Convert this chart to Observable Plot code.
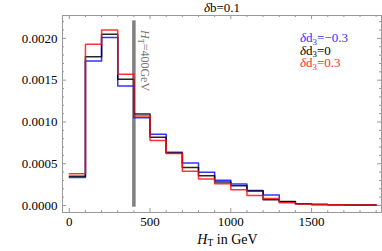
<!DOCTYPE html>
<html><head><meta charset="utf-8">
<script src="https://cdn.jsdelivr.net/npm/d3@7"></script>
<script src="https://cdn.jsdelivr.net/npm/@observablehq/plot@0.6"></script>
<style>body{margin:0;background:#fff} svg{display:block} svg text{font-family:"Liberation Serif","DejaVu Serif",serif !important}</style>
</head><body><div id="chart"></div>
<script>
// Bin edges (GeV)
const binEdges = [0,100,200,300,400,500,600,700,800,900,1000,1100,1200,1300,1400,1500,1600,1700,1800,1900];
// Normalized distributions
const blueVals  = [0.000337,0.00173,0.00201,0.00143,0.00105,0.000853,0.000638,0.000508,0.000397,0.000302,0.000258,0.000179,0.000125,0.000045,0.00002,0.000012,0.000008,0.000006,0.000005];
const blackVals = [0.00035,0.00178,0.00205,0.00151,0.001095,0.000818,0.00063,0.000456,0.000357,0.000282,0.000238,0.000175,0.00007,0.000048,0.00002,0.000012,0.000008,0.000006,0.000005];
const redVals   = [0.00038,0.00193,0.0021,0.00157,0.00107,0.000778,0.000623,0.000409,0.000317,0.000262,0.00019,0.000119,0.000085,0.000032,0.000018,0.000012,0.000008,0.000006,0.000005];
const seriesNames = ["δd3=−0.3","δd3=0","δd3=0.3"];
const seriesColors = ["#1010ff","#000000","#ff1010"];
const legendColors = ["#3030ff","#000000","#ff2a2a"];
const xMajorTicks = [0,500,1000,1500];
const yMajorTicks = [0,0.0005,0.001,0.0015,0.002];
const cutX = [400];
const cutYRange = [-0.00002, 0.00221];
const titleText = "δb=0.1";
const xLabelText = "HT in GeV";
const cutLabelText = "HT=400GeV";

const W = 382, H = 251;
const mL = 62, mR = 1, mT = 15, mB = 39;
const fw = W - mL - mR, fh = H - mT - mB;

const valsList = [blueVals, blackVals, redVals];
const rows = valsList.flatMap((vals, k) => [
  ...vals.map((v, i) => ({x: binEdges[i], y: v, s: seriesNames[k]})),
  {x: binEdges[vals.length], y: vals[vals.length - 1], s: seriesNames[k]}
]);

const xMinor = d3.range(0, 1901, 100).filter(d => !xMajorTicks.includes(d));
const yMinor = d3.range(0, 23).map(i => i * 0.0001).filter(d => !yMajorTicks.some(m => Math.abs(m - d) < 1e-9));
const tickColor = "#999";
const ff = "Liberation Serif";

const plot = Plot.plot({
  width: W, height: H,
  marginLeft: mL, marginRight: mR, marginTop: mT, marginBottom: mB,
  style: {fontFamily: ff, fontSize: "13px", color: "#000", background: "#fff"},
  x: {domain: [-42, 1933], label: null},
  y: {domain: [-0.0000833, 0.002274], label: null},
  color: {domain: seriesNames, range: seriesColors},
  marks: [
    Plot.frame({stroke: tickColor}),
    Plot.tickX(xMajorTicks, {x: d => d, stroke: tickColor, insetTop: fh - 4}),
    Plot.tickX(xMinor, {x: d => d, stroke: tickColor, insetTop: fh - 2}),
    Plot.tickX(xMajorTicks, {x: d => d, stroke: tickColor, insetBottom: fh - 4}),
    Plot.tickX(xMinor, {x: d => d, stroke: tickColor, insetBottom: fh - 2}),
    Plot.tickY(yMajorTicks, {y: d => d, stroke: tickColor, insetRight: fw - 4}),
    Plot.tickY(yMinor, {y: d => d, stroke: tickColor, insetRight: fw - 2}),
    Plot.tickY(yMajorTicks, {y: d => d, stroke: tickColor, insetLeft: fw - 4}),
    Plot.tickY(yMinor, {y: d => d, stroke: tickColor, insetLeft: fw - 2}),
    Plot.axisX(xMajorTicks, {tickSize: 0, tickPadding: 4, fontSize: 13, fill: "#000", tickFormat: d => String(d)}),
    Plot.axisY(yMajorTicks, {tickSize: 0, tickPadding: 5, fontSize: 13, fill: "#000", tickFormat: d3.format(".4f")}),
    Plot.ruleX(cutX, {x: d => d, y1: cutYRange[0], y2: cutYRange[1], stroke: "#808080", strokeWidth: 3.5}),
    Plot.line(rows, {x: "x", y: "y", z: "s", stroke: "s", curve: "step-after", strokeWidth: 1.5, strokeOpacity: 0.85}),
    Plot.text([cutLabelText], {text: d => d, x: cutX[0], frameAnchor: "top", rotate: 90, textAnchor: "start", fill: "#777", fontSize: 12}),
    Plot.text([titleText], {text: d => d, frameAnchor: "top", lineAnchor: "middle", dy: -7.5, fontSize: 13}),
    Plot.text([xLabelText], {text: d => d, frameAnchor: "bottom", lineAnchor: "middle", dy: 27, dx: 5.5, fontSize: 14}),
    ...seriesNames.map((name, i) =>
      Plot.text([name], {text: d => d, frameAnchor: "top-left", lineAnchor: "middle", dx: 237.5, dy: 22.7 + 12.4 * i, textAnchor: "start", fill: legendColors[i], fontSize: 13}))
  ]
});
document.getElementById("chart").append(plot);

// rich text: italic symbols and subscripts
function rich(el, parts) {
  const t = d3.select(el);
  t.text(null);
  parts.forEach(([s, kind]) => {
    const sp = t.append("tspan").text(s);
    if (kind === "i") sp.attr("font-style", "italic");
    if (kind === "sub") sp.attr("font-size", "0.68em").attr("dy", "2.5");
    if (kind === "after") sp.attr("dy", "-2.5");
  });
}
const sx = plot.scale("x");
d3.select(plot).selectAll("text").each(function() {
  const s = this.textContent;
  if (s === xLabelText) rich(this, [["H","i"],["T","sub"],[" in GeV","after"]]);
  else if (s === cutLabelText) {
    rich(this, [["H","i"],["T","sub"],["=400GeV","after"]]);
    // place label just right of the cut line, reading downward
    const px = sx.apply(cutX[0]);
    this.parentNode.removeAttribute("transform");
    d3.select(this).attr("y", 0).attr("transform", `translate(${px + 7.5},${mT + 15}) rotate(90)`);
  }
  else if (s === titleText) rich(this, [["δ","i"],["b=0.1",""]]);
  else if (seriesNames.includes(s)) {
    const rest = s.slice(3);
    rich(this, [["δ","i"],["d",""],["3","sub"],[rest,"after"]]);
  }
});
</script>
</body></html>
